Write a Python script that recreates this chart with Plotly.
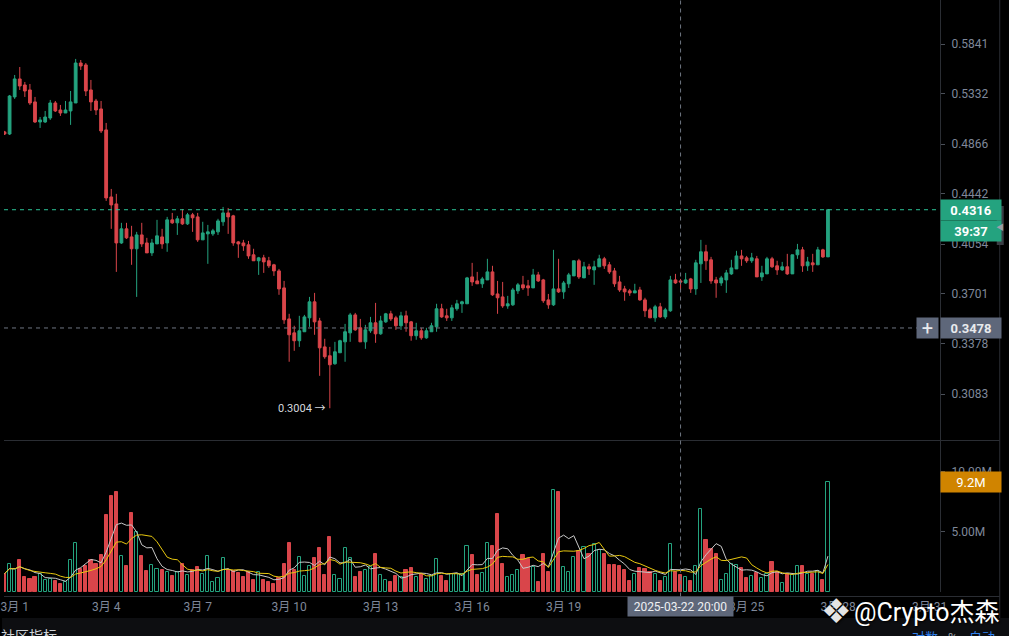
import math
import pandas as pd
import plotly.graph_objects as go

# 4h candles, first one opens 2025-02-28 16:00
START = '2025-02-28 16:00'
opens = [
    .4975, .4956, .5303, .5480, .5420, .5371, .5255, .5066, .5066, .5103,
    .5245, .5178, .5150, .5169, .5245, .5642, .5622, .5371, .5264, .5188,
    .4993, .4418, .4362, .4062, .4168, .4107, .4019, .4122, .4062, .3989,
    .4055, .4107, .4062, .4237, .4214, .4245, .4206, .4276, .4260, .4085,
    .4130, .4130, .4145, .4222, .4291, .4268, .4070, .4062, .4048, .3975,
    .3932, .3953, .3932, .3903, .3860, .3742, .3536, .3447, .3398, .3454,
    .3543, .3648, .3523, .3360, .3306, .3258, .3324, .3391, .3447, .3562,
    .3479, .3391, .3460, .3511, .3441, .3517, .3569, .3543, .3492, .3556,
    .3517, .3429, .3460, .3416, .3454, .3485, .3602, .3556, .3543, .3602,
    .3635, .3635, .3818, .3790, .3770, .3797, .3853, .3701, .3681, .3621,
    .3628, .3722, .3763, .3756, .3742, .3832, .3797, .3661, .3628, .3735,
    .3715, .3770, .3825, .3932, .3811, .3889, .3867, .3889, .3946, .3903,
    .3860, .3783, .3735, .3722, .3708, .3728, .3661, .3595, .3543, .3615,
    .3549, .3589, .3797, .3790, .3776, .3804, .3735, .3910, .3997, .3939,
    .3797, .3776, .3797, .3839, .3874, .3967, .3953, .3932, .3946, .3818,
    .3839, .3946, .3896, .3867, .3889, .3839, .3975, .4011, .3896, .3917,
    .3903, .4011, .3960]
highs = [
    .4984, .5322, .5520, .5601, .5450, .5430, .5303, .5112, .5169, .5274,
    .5264, .5226, .5264, .5361, .5684, .5673, .5642, .5470, .5284, .5264,
    .5057, .4483, .4443, .4214, .4214, .4191, .4145, .4214, .4100, .4092,
    .4237, .4168, .4260, .4291, .4268, .4322, .4291, .4291, .4291, .4222,
    .4198, .4168, .4245, .4338, .4330, .4276, .4077, .4085, .4077, .4019,
    .3960, .3975, .3960, .3910, .3874, .3790, .3569, .3492, .3556, .3562,
    .3681, .3708, .3543, .3410, .3360, .3391, .3404, .3504, .3575, .3575,
    .3536, .3498, .3549, .3641, .3556, .3575, .3589, .3556, .3582, .3589,
    .3523, .3511, .3479, .3479, .3511, .3635, .3635, .3602, .3628, .3661,
    .3655, .3818, .3917, .3853, .3818, .3946, .3896, .3790, .3783, .3688,
    .3742, .3776, .3825, .3797, .3874, .3853, .3804, .3701, .4011, .3946,
    .3790, .3846, .3932, .3946, .3924, .3910, .3932, .3975, .3960, .3924,
    .3881, .3825, .3756, .3735, .3770, .3749, .3675, .3608, .3628, .3641,
    .3608, .3825, .3839, .3804, .3846, .3811, .3939, .4085, .4048, .3960,
    .3818, .3825, .3867, .3939, .4004, .4011, .3967, .3989, .3967, .3896,
    .3960, .3960, .3932, .3924, .3982, .3975, .4055, .4033, .3960, .3982,
    .4033, .4019, .4322]
lows = [
    .4947, .4947, .5284, .5371, .5303, .5226, .5057, .5011, .5057, .5085,
    .5159, .5122, .5150, .5039, .5245, .5571, .5312, .5169, .5131, .4965,
    .4386, .4168, .3853, .4055, .4092, .3903, .3681, .4033, .3989, .3967,
    .4055, .4019, .3997, .4206, .4122, .4198, .4198, .4145, .4070, .4085,
    .3910, .4115, .4122, .4191, .4130, .4041, .3953, .4004, .3946, .3932,
    .3832, .3846, .3881, .3825, .3695, .3504, .3270, .3336, .3360, .3454,
    .3485, .3435, .3187, .3288, .3004, .3252, .3324, .3270, .3391, .3460,
    .3391, .3348, .3447, .3385, .3435, .3511, .3523, .3466, .3466, .3454,
    .3398, .3404, .3404, .3410, .3454, .3454, .3543, .3523, .3523, .3589,
    .3575, .3635, .3756, .3770, .3742, .3797, .3688, .3569, .3608, .3602,
    .3621, .3701, .3728, .3688, .3742, .3783, .3641, .3602, .3621, .3708,
    .3668, .3742, .3825, .3804, .3811, .3832, .3763, .3889, .3874, .3839,
    .3749, .3715, .3655, .3688, .3708, .3655, .3549, .3543, .3517, .3543,
    .3536, .3582, .3770, .3728, .3770, .3708, .3695, .3776, .3867, .3770,
    .3675, .3756, .3708, .3832, .3874, .3896, .3917, .3917, .3818, .3790,
    .3839, .3881, .3832, .3860, .3832, .3839, .3946, .3853, .3860, .3853,
    .3903, .3953, .3960]
closes = [
    .4956, .5312, .5480, .5410, .5361, .5245, .5066, .5085, .5112, .5245,
    .5169, .5150, .5178, .5255, .5642, .5611, .5361, .5255, .5178, .4984,
    .4410, .4354, .4062, .4168, .4100, .4019, .4122, .4055, .3989, .4062,
    .4115, .4055, .4237, .4214, .4245, .4206, .4276, .4253, .4085, .4137,
    .4145, .4153, .4229, .4291, .4260, .4062, .4055, .4041, .3967, .3932,
    .3953, .3924, .3896, .3860, .3735, .3530, .3435, .3398, .3460, .3549,
    .3648, .3517, .3354, .3300, .3252, .3330, .3398, .3454, .3562, .3466,
    .3391, .3466, .3511, .3441, .3523, .3569, .3536, .3492, .3556, .3511,
    .3429, .3460, .3416, .3460, .3492, .3602, .3549, .3543, .3608, .3635,
    .3648, .3811, .3783, .3770, .3804, .3853, .3695, .3675, .3621, .3635,
    .3728, .3763, .3742, .3742, .3832, .3790, .3655, .3628, .3735, .3715,
    .3776, .3832, .3932, .3818, .3889, .3874, .3889, .3946, .3896, .3853,
    .3770, .3728, .3715, .3708, .3722, .3661, .3589, .3543, .3615, .3549,
    .3595, .3797, .3776, .3783, .3797, .3735, .3917, .3997, .3932, .3790,
    .3776, .3811, .3846, .3881, .3967, .3946, .3932, .3953, .3818, .3846,
    .3946, .3889, .3867, .3889, .3839, .3975, .4011, .3896, .3924, .3903,
    .4011, .3960, .4316]
# volume in millions
volume_m = [
    1.53, 2.36, 1.89, 2.64, 1.25, 1.06, 1.25, 1.47, 0.97, 1.11,
    0.92, 0.64, 0.83, 2.64, 4.11, 1.94, 2.14, 2.69, 2.31, 3.06,
    6.39, 7.97, 8.31, 2.97, 2.14, 6.56, 5.00, 2.97, 1.72, 2.28,
    1.92, 1.81, 1.64, 1.31, 1.67, 2.36, 1.39, 1.86, 2.08, 1.47,
    3.03, 0.86, 1.19, 2.81, 1.86, 1.75, 1.58, 1.25, 1.67, 0.97,
    1.67, 0.97, 0.83, 0.64, 1.19, 2.31, 4.11, 1.81, 2.94, 1.31,
    2.14, 2.83, 3.64, 1.39, 4.56, 1.44, 1.11, 3.69, 2.86, 1.22,
    1.64, 1.86, 2.08, 3.19, 1.44, 0.97, 0.83, 1.31, 1.25, 1.86,
    1.97, 1.25, 1.53, 1.11, 1.31, 2.78, 1.31, 0.89, 1.53, 1.53,
    1.53, 3.81, 3.06, 1.39, 1.61, 4.11, 3.81, 6.47, 2.36, 1.25,
    1.39, 1.81, 3.06, 2.78, 2.08, 0.83, 3.14, 1.67, 8.47, 8.33,
    2.08, 1.67, 2.92, 3.42, 3.75, 3.19, 3.97, 3.47, 3.19, 2.22,
    2.22, 2.14, 1.86, 0.92, 1.53, 2.03, 1.94, 1.67, 1.53, 0.92,
    1.25, 4.03, 1.67, 1.39, 1.25, 0.89, 2.14, 6.89, 4.31, 3.61,
    3.19, 1.03, 1.47, 2.31, 2.28, 2.03, 1.17, 1.31, 1.58, 1.17,
    1.53, 2.47, 1.67, 0.75, 1.53, 1.39, 2.14, 2.14, 1.47, 1.53,
    1.75, 1.03, 9.17]

price_ticks = [0.5841, 0.5332, 0.4866, 0.4442, 0.4054, 0.3701, 0.3378, 0.3083]
volume_ticks = [5, 10]
volume_tick_text = ['5.00M', '10.00M']
date_ticks = ['2025-03-01', '2025-03-04', '2025-03-07', '2025-03-10', '2025-03-13', '2025-03-16',
              '2025-03-19', '2025-03-22', '2025-03-25', '2025-03-28', '2025-03-31']
date_tick_text = ['3月 1', '3月 4', '3月 7', '3月 10', '3月 13', '3月 16',
                  '3月 19', '3月 22', '3月 25', '3月 28', '3月 31']

CROSSHAIR_TIME = '2025-03-22 20:00'
CROSSHAIR_PRICE = 0.3478
COUNTDOWN = '39:37'
X_RANGE = ['2025-02-28 15:36', '2025-03-31 08:10']

GREEN = '#24a37f'
RED = '#d9454a'
AXIS_TEXT = '#7f889a'
LINE = '#2a2d33'
CROSS = '#6f7682'
FONT = "Roboto, 'Noto Sans CJK SC', sans-serif"

PLOT_H = 592  # pixel height of the plotting area


def py(px):
    """pixel row -> paper y"""
    return (PLOT_H - px) / PLOT_H


def px_x(px):
    """pixel column -> paper x"""
    return px / 940


def box(text, y, yref, color, yshift=0, font_color='#ffffff', bold=True, xanchor='left', x=1, width=58):
    label = '<b>%s</b>' % text if bold else text
    return dict(text=label, x=x, xref='paper', xanchor=xanchor, y=y, yref=yref, yanchor='middle',
                yshift=yshift, showarrow=False, bgcolor=color, width=width, height=18, borderpad=1,
                font=dict(family=FONT, size=13, color=font_color))


dates = pd.date_range(START, periods=len(closes), freq='4h')
up = [c >= o for o, c in zip(opens, closes)]
edge_colors = [GREEN if u else RED for u in up]
fill_colors = ['#000000' if u else RED for u in up]
ma5 = pd.Series(volume_m).rolling(5, min_periods=1).mean()
ma10 = pd.Series(volume_m).rolling(10, min_periods=1).mean()
last = closes[-1]
low_i = lows.index(min(lows))

fig = go.Figure()
fig.add_trace(go.Candlestick(
    x=dates, open=opens, high=highs, low=lows, close=closes, xaxis='x', yaxis='y',
    increasing=dict(line=dict(color=GREEN, width=1), fillcolor=GREEN),
    decreasing=dict(line=dict(color=RED, width=1), fillcolor=RED),
    whiskerwidth=0, hoverinfo='skip'))
fig.add_trace(go.Scatter(x=X_RANGE, y=[last, last], mode='lines', xaxis='x', yaxis='y',
                         line=dict(color='#2cc296', width=1, dash='4px,4px'), hoverinfo='skip'))
fig.add_trace(go.Scatter(x=[X_RANGE[0], '2025-03-30 23:00'], y=[CROSSHAIR_PRICE, CROSSHAIR_PRICE],
                         mode='lines', xaxis='x', yaxis='y',
                         line=dict(color=CROSS, width=1, dash='4px,4px'), hoverinfo='skip'))
fig.add_trace(go.Bar(x=dates, y=volume_m, width=0.62 * 4 * 3600 * 1000, xaxis='x2', yaxis='y2',
                     marker=dict(color=fill_colors, line=dict(color=edge_colors, width=1)),
                     hoverinfo='skip'))
fig.add_trace(go.Scatter(x=dates, y=ma5, mode='lines', xaxis='x2', yaxis='y2',
                         line=dict(color='#c8c8c8', width=1), hoverinfo='skip'))
fig.add_trace(go.Scatter(x=dates, y=ma10, mode='lines', xaxis='x2', yaxis='y2',
                         line=dict(color='#e8c80f', width=1), hoverinfo='skip'))

axis_font = dict(family=FONT, size=12, color=AXIS_TEXT)
fig.update_layout(
    width=1009, height=636, margin=dict(l=0, r=69, t=0, b=44),
    paper_bgcolor='#000000', plot_bgcolor='#000000',
    showlegend=False, hovermode=False, boxgap=0.22, bargap=0,
    xaxis=dict(domain=[0, 1], anchor='y', type='date', range=X_RANGE, showticklabels=False,
               showgrid=False, zeroline=False, rangeslider=dict(visible=False)),
    xaxis2=dict(domain=[0, 1], anchor='y2', type='date', range=X_RANGE, tickmode='array',
                tickvals=date_ticks, ticktext=date_tick_text, showgrid=False, zeroline=False,
                ticks='', tickfont=axis_font, ticklabelstandoff=6, ticklabeloverflow='allow'),
    yaxis=dict(domain=[py(440), 1], type='log', range=[-0.5475, -0.19862], side='right',
               tickmode='array', tickvals=price_ticks, ticktext=['%.4f' % v for v in price_ticks],
               showgrid=False, zeroline=False, showline=True, linecolor=LINE, ticks='outside',
               ticklen=4, tickcolor='#4a4f58', tickfont=axis_font, ticklabelstandoff=4),
    yaxis2=dict(domain=[0, py(441)], range=[0, 12.58], side='right', tickmode='array',
                tickvals=volume_ticks, ticktext=volume_tick_text, showgrid=False, zeroline=False,
                showline=True, linecolor=LINE, ticks='outside', ticklen=4, tickcolor='#4a4f58',
                tickfont=axis_font, ticklabelstandoff=4),
)

shapes = [
    # pane separator, time axis line, right border
    dict(type='line', xref='paper', yref='paper', x0=0, x1=px_x(1000), y0=py(440.5), y1=py(440.5),
         line=dict(color=LINE, width=1)),
    dict(type='line', xref='paper', yref='paper', x0=0, x1=px_x(1000), y0=py(596.5), y1=py(596.5),
         line=dict(color=LINE, width=1)),
    dict(type='line', xref='paper', yref='paper', x0=px_x(1000), x1=px_x(1000), y0=py(618), y1=1,
         line=dict(color=LINE, width=1)),
    dict(type='rect', xref='paper', yref='paper', x0=px_x(-2), x1=px_x(1012), y0=py(640), y1=py(618),
         fillcolor='#0d0e11', line=dict(width=0)),
    dict(type='rect', xref='paper', yref='paper', x0=px_x(997), x1=px_x(1004), y0=py(245), y1=py(206),
         fillcolor='#3a3e45', line=dict(width=0)),
    # crosshair
    dict(type='line', xref='x', yref='paper', x0=CROSSHAIR_TIME, x1=CROSSHAIR_TIME, y0=py(596.5), y1=1,
         line=dict(color=CROSS, width=1, dash='4px,4px')),
]

annotations = [
    box('%.4f' % last, math.log10(last), 'y', GREEN),
    box(COUNTDOWN, math.log10(last), 'y', GREEN, yshift=-21),
    box('%.4f' % CROSSHAIR_PRICE, math.log10(CROSSHAIR_PRICE), 'y', '#5e677a', font_color='#e8eaed'),
    dict(text='+', x=px_x(939), xref='paper', xanchor='right', y=math.log10(CROSSHAIR_PRICE),
         yref='y', yanchor='middle', showarrow=False, bgcolor='#5e677a', width=19, height=18,
         borderpad=1, font=dict(family=FONT, size=20, color='#e8eaed')),
    box('%.1fM' % volume_m[-1], volume_m[-1], 'y2', '#d08400', bold=False),
    dict(text='%.4f →' % lows[low_i], x=dates[low_i], xref='x', xanchor='right', xshift=-2,
         y=math.log10(lows[low_i]), yref='y', yanchor='middle', showarrow=False,
         font=dict(family=FONT, size=11, color='#d5d8de')),
    dict(text=CROSSHAIR_TIME, x=CROSSHAIR_TIME, xref='x2', xanchor='center', y=py(606),
         yref='paper', yanchor='middle', showarrow=False, bgcolor='#5e677a', width=103,
         height=17, borderpad=1, font=dict(family=FONT, size=12, color='#eef0f3')),
    dict(text='◀', x=px_x(1000.5), xref='paper', xanchor='center', y=py(227), yref='paper',
         yanchor='middle', showarrow=False, font=dict(family=FONT, size=8, color='#9aa0a8')),
    # footer
    dict(text='社区指标', x=px_x(-5), xref='paper', xanchor='left', y=py(636), yref='paper',
         yanchor='middle', showarrow=False, font=dict(family=FONT, size=14, color='#cfd3d8')),
    dict(text='对数', x=px_x(925), xref='paper', xanchor='center', y=py(637), yref='paper',
         yanchor='middle', showarrow=False, font=dict(family=FONT, size=13, color='#2f80ed')),
    dict(text='%', x=px_x(953), xref='paper', xanchor='center', y=py(637), yref='paper',
         yanchor='middle', showarrow=False, font=dict(family=FONT, size=13, color='#9aa0a8')),
    dict(text='自动', x=px_x(982), xref='paper', xanchor='center', y=py(637), yref='paper',
         yanchor='middle', showarrow=False, font=dict(family=FONT, size=13, color='#2f80ed')),
    # watermark
    dict(text='❖', x=px_x(836), xref='paper', xanchor='center', y=py(611), yref='paper',
         yanchor='middle', showarrow=False,
         font=dict(family='DejaVu Sans', size=34, color='#e4e4e4', shadow='1px 1px 2px #000')),
    dict(text='@Crypto杰森', x=px_x(1001), xref='paper', xanchor='right', y=py(612), yref='paper',
         yanchor='middle', showarrow=False,
         font=dict(family=FONT, size=25, color='#ffffff', shadow='1px 1px 2px #000')),
]
fig.update_layout(shapes=shapes, annotations=annotations)

# drop the page's default body margin so the chart sits at the window's corner
fig.write_html('out.html', config={'displayModeBar': False},
               post_script="document.body.style.margin='0';document.body.style.background='#000';")
